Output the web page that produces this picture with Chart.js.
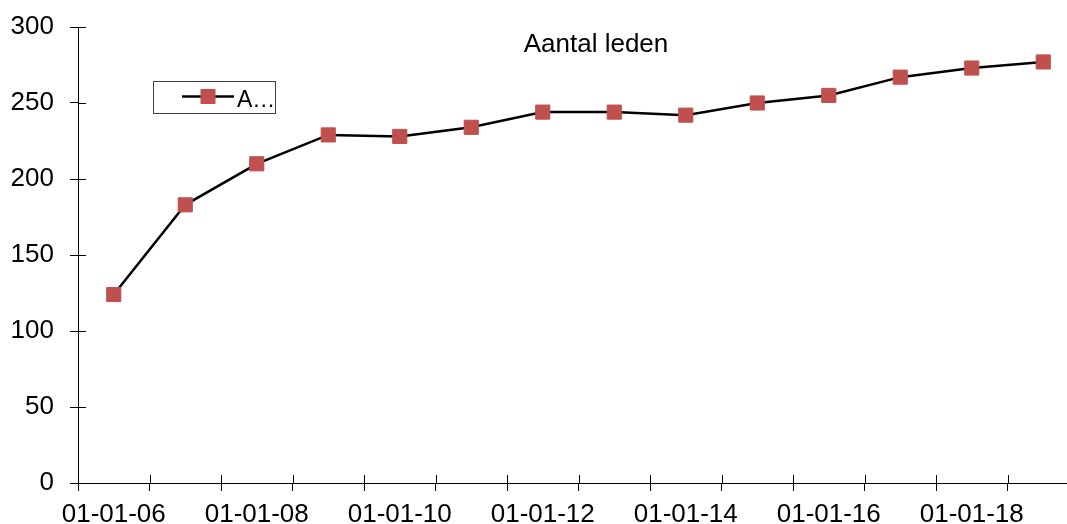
<!DOCTYPE html>
<html>
<head>
<meta charset="utf-8">
<script src="https://cdn.jsdelivr.net/npm/chart.js@4"></script>
<style>
  html, body { margin: 0; padding: 0; background: #fff; overflow: hidden; }
  #clip { width: 1067px; height: 524px; overflow: hidden; position: relative; }
  #inner { width: 1079px; height: 524px; position: absolute; left: 0; top: 0; }
  #c { display: block; max-width: none !important; width: 1079px; height: 524px; }
</style>
</head>
<body>
<div id="clip"><div id="inner"><canvas id="c" width="1079" height="524"></canvas></div></div>
<script>
// ---- data ----
const categories = ["01-01-06","01-01-07","01-01-08","01-01-09","01-01-10","01-01-11","01-01-12",
                    "01-01-13","01-01-14","01-01-15","01-01-16","01-01-17","01-01-18","01-01-19"];
const members = [124, 183, 210, 229, 228, 234, 244, 244, 242, 250, 255, 267, 273, 277];
const seriesName = "Aantal leden";
const legendText = "A…";
const titleText = "Aantal leden";
const yMin = 0, yMax = 300, yStep = 50;

const FONT = '"Liberation Sans", Arial, sans-serif';
const RED = '#C0504D';

const crossTicks = {
  id: 'crossTicks',
  beforeDatasetsDraw(chart) {
    const ctx = chart.ctx, x = chart.scales.x, y = chart.scales.y;
    const len = 8;
    ctx.save();
    ctx.strokeStyle = '#000';
    ctx.lineWidth = 1;
    ctx.beginPath();
    const n = x.ticks.length;
    const step = (x.right - x.left) / n;
    for (let i = 0; i <= n; i++) {
      const px = Math.round(x.left + i * step) + 0.5;
      ctx.moveTo(px, y.bottom);
      ctx.lineTo(px, y.bottom - len);
    }
    y.ticks.forEach((t, i) => {
      const py = Math.round(y.getPixelForTick(i)) + 0.5;
      ctx.moveTo(x.left, py);
      ctx.lineTo(x.left + len, py);
    });
    ctx.stroke();
    ctx.restore();
  }
};

const overlay = {
  id: 'overlay',
  afterDraw(chart) {
    const ctx = chart.ctx, a = chart.chartArea;
    ctx.save();
    ctx.fillStyle = '#000';
    ctx.font = '26px ' + FONT;
    ctx.textAlign = 'center';
    ctx.textBaseline = 'alphabetic';
    ctx.fillText(titleText, a.left + 518, a.top + 25);
    const bx = a.left + 75, by = a.top + 54, bw = 122, bh = 32;
    ctx.fillStyle = '#fff';
    ctx.fillRect(bx, by, bw, bh);
    ctx.strokeStyle = '#404040';
    ctx.lineWidth = 1;
    ctx.strokeRect(Math.round(bx) + 0.5, Math.round(by) + 0.5, bw, bh);
    const ly = by + 15.5;
    ctx.strokeStyle = '#000';
    ctx.lineWidth = 2.5;
    ctx.beginPath();
    ctx.moveTo(bx + 29, ly);
    ctx.lineTo(bx + 81, ly);
    ctx.stroke();
    ctx.fillStyle = RED;
    ctx.fillRect(bx + 55 - 7.5, ly - 7.5, 15, 15);
    ctx.fillStyle = '#000';
    ctx.font = '23px ' + FONT;
    ctx.textAlign = 'left';
    ctx.fillText(legendText, bx + 84, by + 26);
    ctx.restore();
  }
};

new Chart(document.getElementById('c'), {
  type: 'line',
  data: {
    labels: categories,
    datasets: [{
      label: seriesName,
      data: members,
      borderColor: '#000',
      borderWidth: 2.5,
      tension: 0,
      fill: false,
      pointStyle: 'rect',
      pointRadius: 10,
      pointHoverRadius: 10,
      pointBackgroundColor: RED,
      pointBorderColor: RED,
      pointBorderWidth: 1
    }]
  },
  options: {
    responsive: false,
    animation: false,
    devicePixelRatio: 1,
    layout: { autoPadding: false, padding: { top: 27, right: 0, bottom: 0, left: 0 } },
    plugins: { legend: { display: false }, title: { display: false }, tooltip: { enabled: false } },
    scales: {
      x: {
        type: 'category',
        offset: true,
        afterFit(s) { s.height = 41; s.paddingLeft = 0; s.paddingRight = 0; },
        grid: { offset: true, drawOnChartArea: false, drawTicks: true, tickLength: 8, color: '#000', lineWidth: 1 },
        border: { display: true, color: '#000', width: 1 },
        ticks: {
          autoSkip: false, maxRotation: 0, minRotation: 0, padding: 8,
          color: '#000', font: { family: FONT, size: 26 },
          callback(v, i) { return i % 2 === 0 ? categories[i] : ''; }
        }
      },
      y: {
        min: yMin, max: yMax,
        afterFit(s) { s.width = 78; s.paddingTop = 0; s.paddingBottom = 0; },
        grid: { drawOnChartArea: false, drawTicks: true, tickLength: 8, color: '#000', lineWidth: 1 },
        border: { display: true, color: '#000', width: 1 },
        ticks: { stepSize: yStep, padding: 16, color: '#000', font: { family: FONT, size: 26 } }
      }
    }
  },
  plugins: [crossTicks, overlay]
});
</script>
</body>
</html>
